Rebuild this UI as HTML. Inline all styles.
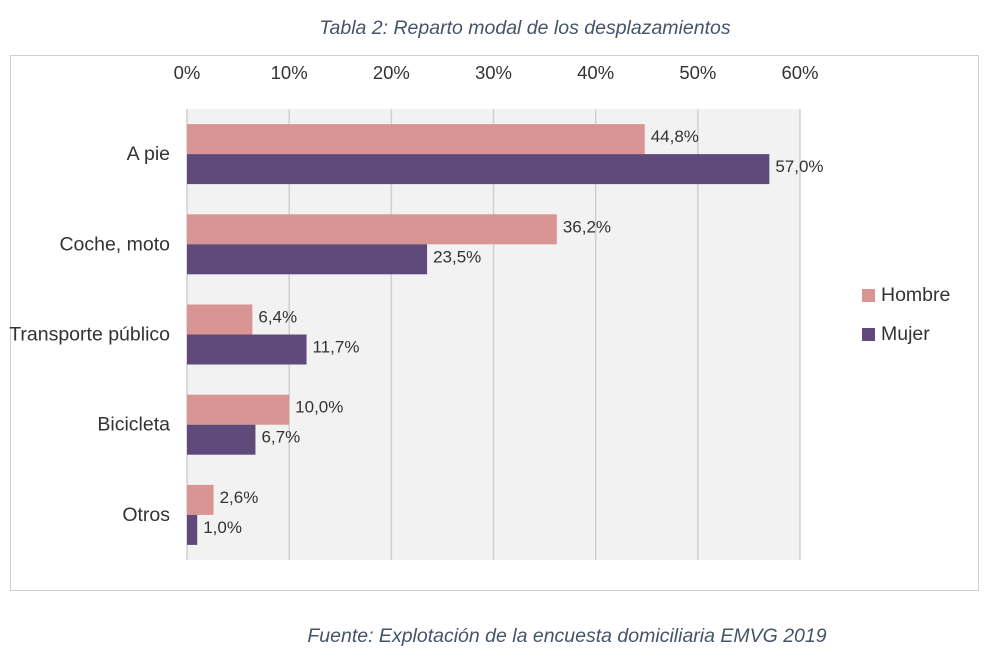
<!DOCTYPE html>
<html><head><meta charset="utf-8"><style>
body{margin:0;background:#fff;width:1000px;height:657px;overflow:hidden;font-family:"Liberation Sans",sans-serif}
svg text{font-family:"Liberation Sans",sans-serif}
</style></head><body>
<svg width="1000" height="657">
<text x="525" y="34" text-anchor="middle" font-size="19.5" font-style="italic" fill="#44546a">Tabla 2: Reparto modal de los desplazamientos</text>
<rect x="10.5" y="55.5" width="968" height="535" fill="#fff" stroke="#d0d0d0"/>
<rect x="187" y="109" width="613" height="451" fill="#f2f2f2"/>
<g id="grid"></g><g id="bars"></g><g id="labels"></g>
<rect x="862" y="289" width="13" height="13" fill="#d99594"/>
<text x="881" y="301" font-size="19.5" fill="#333">Hombre</text>
<rect x="862" y="328" width="13" height="13" fill="#604a7b"/>
<text x="881" y="340" font-size="19.5" fill="#333">Mujer</text>
<text x="567" y="642" text-anchor="middle" font-size="19.5" font-style="italic" fill="#44546a">Fuente: Explotación de la encuesta domiciliaria EMVG 2019</text>
</svg>
<script>
const categories=["A pie","Coche, moto","Transporte público","Bicicleta","Otros"];
const hombre=[44.8,36.2,6.4,10.0,2.6];
const mujer=[57.0,23.5,11.7,6.7,1.0];
const ticks=[0,10,20,30,40,50,60];
const NS="http://www.w3.org/2000/svg";
const x0=187,x1=800,y0=109,y1=560,xmax=60;
const X=v=>x0+(x1-x0)*v/xmax;
const band=(y1-y0)/categories.length;
function el(t,a,p){const e=document.createElementNS(NS,t);for(const k in a)e.setAttribute(k,a[k]);document.getElementById(p).appendChild(e);return e;}
ticks.forEach(t=>{
 const l=el('line',{x1:X(t),x2:X(t),y1:y0,y2:y1,stroke:'#d0d0d0','stroke-width':1.5},'grid');
 
 
 const tx=el('text',{x:X(t),y:79,'text-anchor':'middle','font-size':18.5,fill:'#333'},'labels');
 tx.textContent=t+'%';
 
 
});
const fmt=v=>v.toFixed(1).replace('.',',')+'%';
categories.forEach((c,i)=>{
 const cy=y0+band*(i+0.5);
 const ct=el('text',{x:170,y:cy+6,'text-anchor':'end','font-size':19.5,fill:'#333'},'labels');
 ct.textContent=c;
 
 
 [[hombre[i],'#d99594',cy-30],[mujer[i],'#604a7b',cy]].forEach(([v,col,y],j)=>{
  const r=el('rect',{x:x0,y:y,width:X(v)-x0,height:30,fill:col},'bars');
  
  
  const t=el('text',{x:X(v)+6,y:y+18,'font-size':17,fill:'#333'},'labels');
  t.textContent=fmt(v);
  
  
 });
});
</script>
</body></html>
